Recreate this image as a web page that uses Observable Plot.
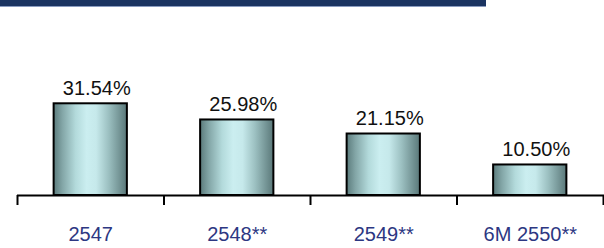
<!DOCTYPE html>
<html>
<head>
<meta charset="utf-8">
<script src="https://cdn.jsdelivr.net/npm/d3@7"></script>
<script src="https://cdn.jsdelivr.net/npm/@observablehq/plot@0.6"></script>
<style>
  html, body { margin: 0; padding: 0; background: #fff; }
  #wrap { position: relative; width: 604px; height: 248px; overflow: hidden; }
  #banner { position: absolute; left: 0; top: 0; width: 486px; height: 7px; background: #1b3461; border-bottom: 1px solid #8a9cc0; box-sizing: border-box; }
  svg { display: block; }
</style>
</head>
<body>
<div id="wrap"><div id="banner"></div></div>
<script>
const categories = ["2547", "2548**", "2549**", "6M 2550**"];
const values = [31.54, 25.98, 21.15, 10.50];
const valueLabels = ["31.54%", "25.98%", "21.15%", "10.50%"];

const data = categories.map((c, i) => ({ i, category: c, value: values[i], label: valueLabels[i] }));
const bounds = d3.range(categories.length + 1).map(k => k - 0.5);

const defs = () => {
  const d = d3.create("svg:defs");
  const g = d.append("linearGradient").attr("id", "barGrad").attr("x1", "0%").attr("x2", "100%").attr("y1", "0%").attr("y2", "0%");
  [["0%", "#5b7b7c"], ["12%", "#83a6a7"], ["30%", "#b3dadb"], ["45%", "#cbeef0"], ["58%", "#c6e9eb"], ["75%", "#9cc0c1"], ["100%", "#5a7879"]]
    .forEach(([o, c]) => g.append("stop").attr("offset", o).attr("stop-color", c));
  return d.node();
};

const chart = Plot.plot({
  width: 604,
  height: 248,
  marginLeft: 17,
  marginRight: 1,
  marginTop: 78.7,
  marginBottom: 53,
  style: { fontFamily: "'Liberation Sans', Arial, sans-serif", background: "transparent" },
  x: { type: "linear", domain: [-0.5, categories.length - 0.5], label: null },
  y: { domain: [0, 40], axis: null },
  marks: [
    defs,
    Plot.rectY(data, { x1: d => d.i - 0.25, x2: d => d.i + 0.25, y: "value", fill: "url(#barGrad)", stroke: "#000", strokeWidth: 2 }),
    Plot.text(data, { x: "i", y: "value", text: "label", dx: 6, dy: -9, lineAnchor: "bottom", fontSize: 20, fill: "#111" }),
    Plot.ruleY([0], { stroke: "#000", strokeWidth: 2, insetRight: -1 }),
    Plot.axisX(bounds, { tickSize: 10, tickFormat: () => "", stroke: "#000", strokeWidth: 2, label: null }),
    Plot.axisX(data.map(d => d.i), { tickSize: 0, tickPadding: 31, tickFormat: i => categories[i], fontSize: 20, fill: "#2d3782", label: null })
  ]
});
document.getElementById("wrap").prepend(chart);
</script>
</body>
</html>
